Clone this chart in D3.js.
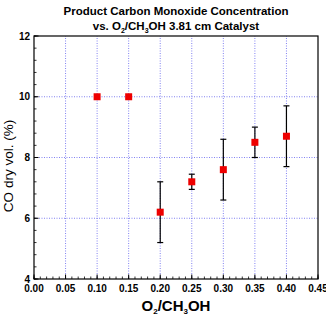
<!DOCTYPE html>
<html><head><meta charset="utf-8">
<script src="https://cdn.jsdelivr.net/npm/d3@7"></script>
<style>body{margin:0;background:#fff}svg{display:block}text{font-family:"Liberation Sans",Arial,sans-serif}</style>
</head><body>
<script>
const ratio = [0.10, 0.15, 0.20, 0.25, 0.30, 0.35, 0.40];
const coVol = [10.0, 10.0, 6.2, 7.2, 7.6, 8.5, 8.7];
const coErr = [0, 0, 1.0, 0.25, 1.0, 0.5, 1.0];
const xTicks = [0, 0.05, 0.10, 0.15, 0.20, 0.25, 0.30, 0.35, 0.40, 0.45];
const yTicks = [4, 6, 8, 10, 12];

const W = 326, H = 315;
const svg = d3.select("body").append("svg").attr("width", W).attr("height", H);
const x = d3.scaleLinear().domain([0, 0.45]).range([34, 318]);
const y = d3.scaleLinear().domain([4, 12]).range([279, 36]);

// grid
const g = svg.append("g");
g.selectAll(".gx").data(xTicks.slice(1, -1)).join("line")
  .attr("x1", d => x(d)).attr("x2", d => x(d)).attr("y1", y(4)).attr("y2", y(12))
  .attr("stroke", "#6262ee").attr("stroke-width", 0.8).attr("stroke-dasharray", "1,1.5");
g.selectAll(".gy").data(yTicks.slice(1, -1)).join("line")
  .attr("x1", x(0)).attr("x2", x(0.45)).attr("y1", d => y(d)).attr("y2", d => y(d))
  .attr("stroke", "#6262ee").attr("stroke-width", 0.8).attr("stroke-dasharray", "1,1.5");

// axes with inward ticks
const xMinor = d3.range(0, 0.4501, 0.01);
const yMinor = d3.range(4, 12.001, 0.4);
const ax = svg.append("g");
ax.selectAll(".xm").data(xMinor).join("line")
  .attr("x1", d => x(d)).attr("x2", d => x(d)).attr("y1", y(4)).attr("y2", y(4) - 2.5)
  .attr("stroke", "#000").attr("stroke-width", 0.8);
ax.selectAll(".ym").data(yMinor).join("line")
  .attr("y1", d => y(d)).attr("y2", d => y(d)).attr("x1", x(0)).attr("x2", x(0) + 2.5)
  .attr("stroke", "#000").attr("stroke-width", 0.8);
ax.selectAll(".xM").data(xTicks).join("line")
  .attr("x1", d => x(d)).attr("x2", d => x(d)).attr("y1", y(4)).attr("y2", y(4) - 4.5)
  .attr("stroke", "#000").attr("stroke-width", 1);
ax.selectAll(".yM").data(yTicks).join("line")
  .attr("y1", d => y(d)).attr("y2", d => y(d)).attr("x1", x(0)).attr("x2", x(0) + 4.5)
  .attr("stroke", "#000").attr("stroke-width", 1);
svg.append("rect").attr("x", x(0)).attr("y", y(12)).attr("width", x(0.45) - x(0)).attr("height", y(4) - y(12))
  .attr("fill", "none").attr("stroke", "#000").attr("stroke-width", 1.2);

ax.selectAll(".xl").data(xTicks).join("text")
  .attr("x", d => x(d)).attr("y", 292).attr("text-anchor", "middle")
  .attr("font-size", 10).attr("font-weight", "bold").text(d => d.toFixed(2));
ax.selectAll(".yl").data(yTicks).join("text")
  .attr("x", x(0) - 4).attr("y", d => y(d) + 3.5).attr("text-anchor", "end")
  .attr("font-size", 10).attr("font-weight", "bold").text(d => d);

// titles
svg.append("text").attr("x", 176).attr("y", 15).attr("text-anchor", "middle")
  .attr("font-size", 11.5).attr("font-weight", "bold").text("Product Carbon Monoxide Concentration");
const t2 = svg.append("text").attr("x", 176).attr("y", 30).attr("text-anchor", "middle")
  .attr("font-size", 11.5).attr("font-weight", "bold");
t2.append("tspan").text("vs. O");
t2.append("tspan").attr("font-size", 7).attr("dy", 3).text("2");
t2.append("tspan").attr("dy", -3).text("/CH");
t2.append("tspan").attr("font-size", 7).attr("dy", 3).text("3");
t2.append("tspan").attr("dy", -3).text("OH 3.81 cm Catalyst");

const xt = svg.append("text").attr("x", 176).attr("y", 311).attr("text-anchor", "middle")
  .attr("font-size", 15).attr("font-weight", "bold");
xt.append("tspan").text("O");
xt.append("tspan").attr("font-size", 8).attr("dy", 3).text("2");
xt.append("tspan").attr("dy", -3).text("/CH");
xt.append("tspan").attr("font-size", 8).attr("dy", 3).text("3");
xt.append("tspan").attr("dy", -3).text("OH");

svg.append("text").attr("transform", `translate(12.5,166) rotate(-90)`)
  .attr("text-anchor", "middle").attr("font-size", 13.5).text("CO dry vol. (%)");

// error bars
const data = ratio.map((r, i) => ({r, v: coVol[i], e: coErr[i]}));
const eb = svg.append("g").selectAll("g").data(data.filter(d => d.e > 0)).join("g");
eb.append("line").attr("x1", d => x(d.r)).attr("x2", d => x(d.r))
  .attr("y1", d => y(d.v - d.e)).attr("y2", d => y(d.v + d.e)).attr("stroke", "#000").attr("stroke-width", 1.2);
eb.append("line").attr("x1", d => x(d.r) - 3).attr("x2", d => x(d.r) + 3)
  .attr("y1", d => y(d.v - d.e)).attr("y2", d => y(d.v - d.e)).attr("stroke", "#000").attr("stroke-width", 1.2);
eb.append("line").attr("x1", d => x(d.r) - 3).attr("x2", d => x(d.r) + 3)
  .attr("y1", d => y(d.v + d.e)).attr("y2", d => y(d.v + d.e)).attr("stroke", "#000").attr("stroke-width", 1.2);

svg.append("g").selectAll("rect").data(data).join("rect")
  .attr("x", d => x(d.r) - 3.5).attr("y", d => y(d.v) - 3.5).attr("width", 7).attr("height", 7)
  .attr("fill", "#ee0000");
</script>
</body></html>
